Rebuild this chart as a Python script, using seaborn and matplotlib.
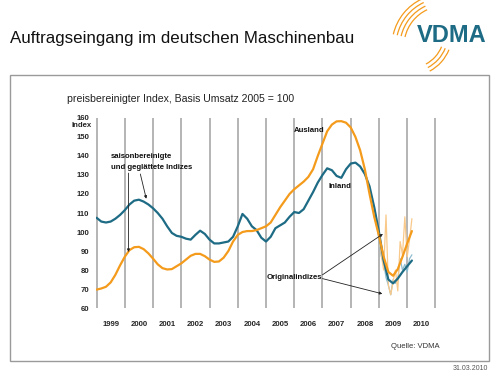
import numpy as np
import pandas as pd
import matplotlib
matplotlib.use("Agg")
import matplotlib.pyplot as plt
from matplotlib.patches import Rectangle, Arc
import seaborn as sns

# smoothed, seasonally adjusted indices, every 2 months from Jan 1999
inland_smooth = [107.5, 105.5, 105, 105.5, 107, 109,
                 111.5, 114.5, 116.5, 117, 116, 114.5,
                 112.5, 110, 107, 103, 99.5, 98,
                 97.5, 96.5, 96, 98.5, 100.7, 99,
                 96, 94, 94, 94.5, 95, 97.5,
                 103, 109.5, 107, 103, 101, 97,
                 95, 97.5, 102, 103.5, 105, 108,
                 110.5, 110, 112, 116.5, 121, 126,
                 130, 133.5, 132.5, 129.5, 128.5, 133,
                 136, 136.5, 134.5, 130.5, 124, 113,
                 100, 85, 75, 73, 75.5, 79,
                 82, 85]
ausland_smooth = [69.7, 70.3, 71.2, 73.5, 77.5, 82.5,
                  87, 90.5, 92, 92.2, 91, 88.8,
                  86, 83, 81, 80.3, 80.5, 82,
                  83.5, 85.5, 87.5, 88.5, 88.5, 87.3,
                  85.5, 84.3, 84.5, 86.5, 90, 95,
                  98.5, 100, 100.5, 100.5, 101, 102,
                  103, 105, 109, 113, 116.5, 120,
                  122.5, 124.5, 126.5, 129, 133, 140,
                  146.5, 153, 156.5, 158.2, 158.3, 157.5,
                  155, 150, 143, 133, 120, 108,
                  98, 87, 79, 77, 80.5, 87,
                  94, 100.5]

# original (unsmoothed) monthly indices, Nov 2008 - Mar 2010
ausland_raw = [108, 103, 98, 88, 80, 109, 72, 67, 74, 80, 69, 95, 88, 108, 87, 96, 107]
inland_raw = [113, 106, 96, 87, 84, 76, 72, 67, 75, 73, 75, 86, 80, 83, 79, 86, 88]

years = list(range(1999, 2011))
y_ticks = [60, 70, 80, 90, 100, 110, 120, 130, 140, 150, 160]

TEAL = "#1d6b84"
ORANGE = "#f49b1c"
TEAL_LIGHT = "#8fbdd0"
ORANGE_LIGHT = "#f9c98a"

smooth_t = 1999 + np.arange(len(inland_smooth)) / 6
raw_t = 2008 + (10 + np.arange(len(inland_raw))) / 12

smooth = pd.DataFrame({"t": np.concatenate([smooth_t, smooth_t]),
                       "v": inland_smooth + ausland_smooth,
                       "s": ["Inland"] * len(smooth_t) + ["Ausland"] * len(smooth_t)})
raw = pd.DataFrame({"t": np.concatenate([raw_t, raw_t]),
                    "v": inland_raw + ausland_raw,
                    "s": ["Inland"] * len(raw_t) + ["Ausland"] * len(raw_t)})

sns.set_style("white")
plt.rcParams["font.family"] = ["Liberation Sans", "DejaVu Sans"]

fig = plt.figure(figsize=(5, 3.78), dpi=100)

# ── page decoration (pixel coordinates) ─────────────────────────────────
deco = fig.add_axes([0, 0, 1, 1], zorder=0)
deco.set_xlim(0, 500)
deco.set_ylim(378, 0)
deco.axis("off")
deco.add_patch(Rectangle((10, 75), 479, 286, fill=False, ec="#9a9a9a", lw=1.0))
deco.text(10, 38, "Auftragseingang im deutschen Maschinenbau", fontsize=12.2,
          va="center", ha="left", color="#111111")
deco.text(417, 36, "VDMA", fontsize=17, fontweight="bold", color=TEAL,
          va="center", ha="left")
# logo swooshes (y axis is inverted, so angles run clockwise)
for r in (40, 44, 48, 52):
    deco.add_patch(Arc((444, 46), 2 * r, 2 * r, theta1=193, theta2=245,
                       color=ORANGE, lw=0.9))
for r in (34, 38, 42):
    deco.add_patch(Arc((410, 34), 2 * r, 2 * r, theta1=22, theta2=62,
                       color=ORANGE, lw=0.9))
deco.text(67, 99, "preisbereinigter Index, Basis Umsatz 2005 = 100", fontsize=7.6,
          va="center", ha="left", color="#222222")
deco.text(440, 346, "Quelle: VDMA", fontsize=5.5, va="center", ha="right",
          color="#333333")
deco.text(488, 368, "31.03.2010", fontsize=5, va="center", ha="right",
          color="#555555")

# ── chart ───────────────────────────────────────────────────────────────
ax = fig.add_axes([0.192, 0.185, 0.68, 0.503], zorder=1)
ax.patch.set_alpha(0)

sns.lineplot(data=raw, x="t", y="v", hue="s", ax=ax, legend=False,
             palette={"Inland": TEAL_LIGHT, "Ausland": ORANGE_LIGHT}, lw=0.9)
sns.lineplot(data=smooth, x="t", y="v", hue="s", ax=ax, legend=False,
             palette={"Inland": TEAL, "Ausland": ORANGE}, lw=1.6)

ax.set_xlim(1998.98, 2011.02)
ax.set_ylim(60, 160)
ax.set_xlabel("")
ax.set_ylabel("")
for spine in ax.spines.values():
    spine.set_visible(False)

ax.set_xticks(range(1999, 2012))
ax.set_xticklabels([])
ax.set_xticks([y + 0.5 for y in years], minor=True)
ax.set_xticklabels([str(y) for y in years], minor=True,
                   fontsize=5.6, fontweight="bold")
ax.tick_params(axis="x", which="both", length=0, pad=9)
ax.grid(axis="x", which="major", color="#a8a8a8", lw=1.2)
ax.grid(axis="y", visible=False)

ax.set_yticks(y_ticks)
ax.set_yticklabels([str(v) for v in y_ticks], fontsize=5.6, fontweight="bold")
ax.tick_params(axis="y", length=0, pad=5)
ax.text(-0.012, 156.2, "Index", transform=ax.get_yaxis_transform(),
        ha="right", va="center", fontsize=5.6, fontweight="bold")

# ── annotations ─────────────────────────────────────────────────────────
bold = dict(fontsize=5.6, fontweight="bold", color="#111111")
arrow = dict(arrowstyle="-|>", color="#222222", lw=0.6,
             mutation_scale=4, shrinkA=0, shrinkB=0)
ax.text(1999.5, 139.5, "saisonbereinigte", va="center", **bold)
ax.text(1999.5, 134.0, "und geglättete Indizes", va="center", **bold)
ax.annotate("", xy=(2000.13, 89.5), xytext=(2000.13, 131), arrowprops=arrow)
ax.annotate("", xy=(2000.76, 117.5), xytext=(2000.55, 130.5), arrowprops=arrow)
ax.text(2005.97, 153.3, "Ausland", va="center", **bold)
ax.text(2007.2, 123.7, "Inland", va="center", **bold)
ax.text(2005.03, 76.3, "Originalindizes", va="center", **bold)
ax.annotate("", xy=(2009.14, 99), xytext=(2007.0, 77.5), arrowprops=arrow)
ax.annotate("", xy=(2009.12, 67.5), xytext=(2007.0, 75.5), arrowprops=arrow)

fig.savefig("out.png", dpi=100, facecolor="white")
